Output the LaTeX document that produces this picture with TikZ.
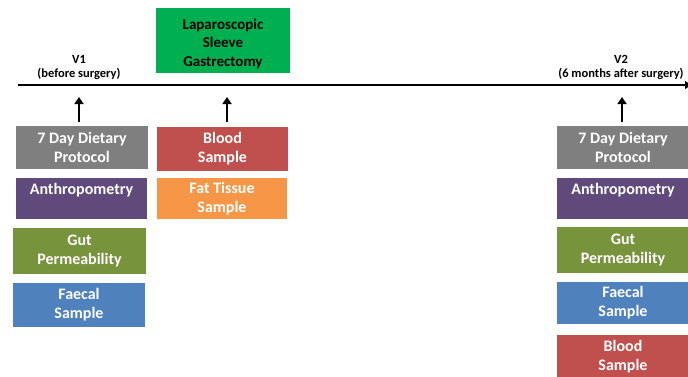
\documentclass[tikz,border=0pt]{standalone}
\usepackage{fontspec}
\setmainfont{Carlito}
\usetikzlibrary{arrows.meta}

\definecolor{greyc}{HTML}{7F7F7F}
\definecolor{purplec}{HTML}{604A7B}
\definecolor{olivec}{HTML}{77933C}
\definecolor{bluec}{HTML}{4F81BD}
\definecolor{redc}{HTML}{C0504D}
\definecolor{orangec}{HTML}{F79646}
\definecolor{greenc}{HTML}{00B050}

\tikzset{
  box/.style={minimum width=132pt, minimum height=43pt, inner sep=0pt,
    text=white, align=center, font=\bfseries\fontsize{16}{19}\selectfont},
  visit/.style={align=center, font=\bfseries\fontsize{12.5}{14}\selectfont},
  up/.style={line width=2.2pt, -{Triangle[length=7pt,width=9pt]}}
}

\begin{document}
\begin{tikzpicture}[x=1pt,y=-1pt]
    \useasboundingbox (0,0) rectangle (688,376);

    % timeline
    \coordinate (start) at (18,85);
    \coordinate (stop) at (691,85);
    \draw[line width=2.8pt, -{Triangle[length=6pt,width=8pt]}] (start) -- (stop);
    \coordinate (t1) at (79,97);
    \coordinate (t2) at (227,97);
    \coordinate (t3) at (622,97);

    \node[visit] (v1) at (79,67) {V1\\(before surgery)};
    \node[visit] (v2) at (621,67) {V2\\(6 months after surgery)};
    \node[box, fill=greenc, text=black, minimum width=134pt, minimum height=65pt,
      font=\bfseries\fontsize{15}{18.5}\selectfont] (lsg) at (223,40.5) {\strut\\[-15pt]Laparoscopic\\Sleeve\\Gastrectomy};

    % V1
    \node[box, fill=greyc] (ldiet) at (82,147.5) {7 Day Dietary\\Protocol};
    \node[box, fill=purplec, minimum width=131pt, minimum height=41pt] (lanthro) at (81.5,198.5) {Anthropometry\\[-5pt]\strut};
    \node[box, fill=olivec, minimum width=133pt, minimum height=46pt] (lgut) at (79.5,251) {Gut\\Permeability};
    \node[box, fill=bluec, minimum height=44pt] (lfaecal) at (79,305) {Faecal\\Sample};

    % surgery
    \node[box, fill=redc, minimum width=131pt, minimum height=44pt] (mblood) at (222.5,149) {Blood\\Sample};
    \node[box, fill=orangec, minimum width=130pt, minimum height=41pt] (mfat) at (222,198.5) {Fat Tissue\\Sample};

    % V2
    \node[box, fill=greyc] (rdiet) at (623,147.5) {7 Day Dietary\\Protocol};
    \node[box, fill=purplec, minimum height=41pt] (ranthro) at (623,198.5) {Anthropometry\\[-5pt]\strut};
    \node[box, fill=olivec, minimum height=46pt] (rgut) at (623,250) {Gut\\Permeability};
    \node[box, fill=bluec, minimum height=42pt] (rfaecal) at (623,303) {Faecal\\Sample};
    \node[box, fill=redc] (rblood) at (623,356.5) {Blood\\Sample};

    \draw[up] (t1 |- ldiet.north) ++(0,-4) -- (t1);
    \draw[up] (t2 |- mblood.north) ++(0,-5) -- (t2);
    \draw[up] (t3 |- rdiet.north) ++(0,-4) -- (t3);
\end{tikzpicture}
\end{document}
